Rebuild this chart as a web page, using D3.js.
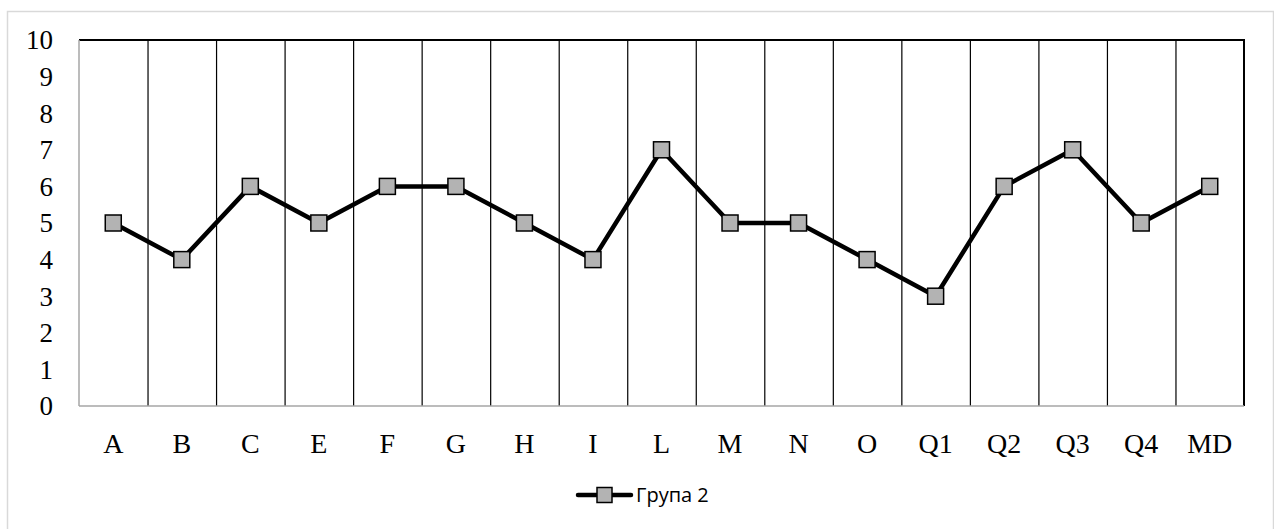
<!DOCTYPE html>
<html>
<head>
<meta charset="utf-8">
<script src="https://cdn.jsdelivr.net/npm/d3@7"></script>
<style>
  body { margin: 0; background: #fff; }
</style>
</head>
<body>
<div id="chart"></div>
<script>
// categories and values
var categories = ["A", "B", "C", "E", "F", "G", "H", "I", "L", "M", "N", "O", "Q1", "Q2", "Q3", "Q4", "MD"];
var group2 = [5, 4, 6, 5, 6, 6, 5, 4, 7, 5, 5, 4, 3, 6, 7, 5, 6];
var yTicks = [0, 1, 2, 3, 4, 5, 6, 7, 8, 9, 10];
var seriesName = "Група 2";

var W = 1274, H = 529;
var margin = {left: 79, right: 30, top: 40, bottom: 123};

var svg = d3.select("#chart").append("svg")
  .attr("width", W).attr("height", H);

// outer chart border
svg.append("rect")
  .attr("x", 7.5).attr("y", 11.5)
  .attr("width", 1266).attr("height", 530)
  .attr("fill", "none").attr("stroke", "#d9d9d9").attr("stroke-width", 1.5);

var x = d3.scaleBand().domain(categories)
  .range([margin.left, W - margin.right]);
var y = d3.scaleLinear().domain([0, 10])
  .range([H - margin.bottom, margin.top]);

var x0 = x.range()[0], x1 = x.range()[1];

// vertical grid lines between categories
svg.selectAll(".vgrid")
  .data(categories.slice(1))
  .enter().append("line")
  .attr("x1", function (d) { return x(d) + 0.5; })
  .attr("x2", function (d) { return x(d) + 0.5; })
  .attr("y1", y(10)).attr("y2", y(0))
  .attr("stroke", "#000").attr("stroke-width", 1.2);

// top and right frame lines (black)
svg.append("line").attr("x1", x0).attr("x2", x1 + 1)
  .attr("y1", y(10)).attr("y2", y(10))
  .attr("stroke", "#000").attr("stroke-width", 2);
svg.append("line").attr("x1", x1).attr("x2", x1)
  .attr("y1", y(10)).attr("y2", y(0))
  .attr("stroke", "#000").attr("stroke-width", 2);

// left and bottom axis lines (grey)
svg.append("line").attr("x1", x0).attr("x2", x0)
  .attr("y1", y(10)).attr("y2", y(0))
  .attr("stroke", "#a6a6a6").attr("stroke-width", 1.5);
svg.append("line").attr("x1", x0).attr("x2", x1)
  .attr("y1", y(0)).attr("y2", y(0))
  .attr("stroke", "#a6a6a6").attr("stroke-width", 1.5);

var serif = "'Liberation Serif', 'Times New Roman', serif";

// y tick labels
svg.selectAll(".ylab")
  .data(yTicks)
  .enter().append("text")
  .attr("x", 53).attr("y", function (d) { return y(d); })
  .attr("dy", "0.35em")
  .attr("text-anchor", "end")
  .style("font-family", serif)
  .style("font-size", "27px")
  .text(function (d) { return d; });

// x category labels
svg.selectAll(".xlab")
  .data(categories)
  .enter().append("text")
  .attr("x", function (d) { return x(d) + x.bandwidth() / 2; })
  .attr("y", 443).attr("dy", "0.35em")
  .attr("text-anchor", "middle")
  .style("font-family", serif)
  .style("font-size", "28px")
  .text(function (d) { return d; });

// the series line
var line = d3.line()
  .x(function (d, i) { return x(categories[i]) + x.bandwidth() / 2; })
  .y(function (d) { return y(d); });

svg.append("path")
  .datum(group2)
  .attr("d", line)
  .attr("fill", "none").attr("stroke", "#000").attr("stroke-width", 4.5)
  .attr("stroke-linejoin", "round");

// square markers
var ms = 16;
svg.selectAll(".marker")
  .data(group2)
  .enter().append("rect")
  .attr("x", function (d, i) { return x(categories[i]) + x.bandwidth() / 2 - ms / 2; })
  .attr("y", function (d) { return y(d) - ms / 2; })
  .attr("width", ms).attr("height", ms)
  .attr("fill", "#b3b3b3").attr("stroke", "#000").attr("stroke-width", 1.5);

// legend
var lg = svg.append("g").attr("transform", "translate(578,495)");
lg.append("line").attr("x1", 0).attr("x2", 53).attr("y1", 0).attr("y2", 0)
  .attr("stroke", "#000").attr("stroke-width", 4.5).attr("stroke-linecap", "round");
lg.append("rect").attr("x", 19).attr("y", -7.5).attr("width", 15).attr("height", 15)
  .attr("fill", "#b3b3b3").attr("stroke", "#000").attr("stroke-width", 1.5);
lg.append("text").attr("x", 58).attr("y", 0).attr("dy", "0.35em")
  .style("font-family", "'Open Sans', 'Noto Sans', sans-serif")
  .style("font-size", "20px")
  .text(seriesName);
</script>
</body>
</html>
